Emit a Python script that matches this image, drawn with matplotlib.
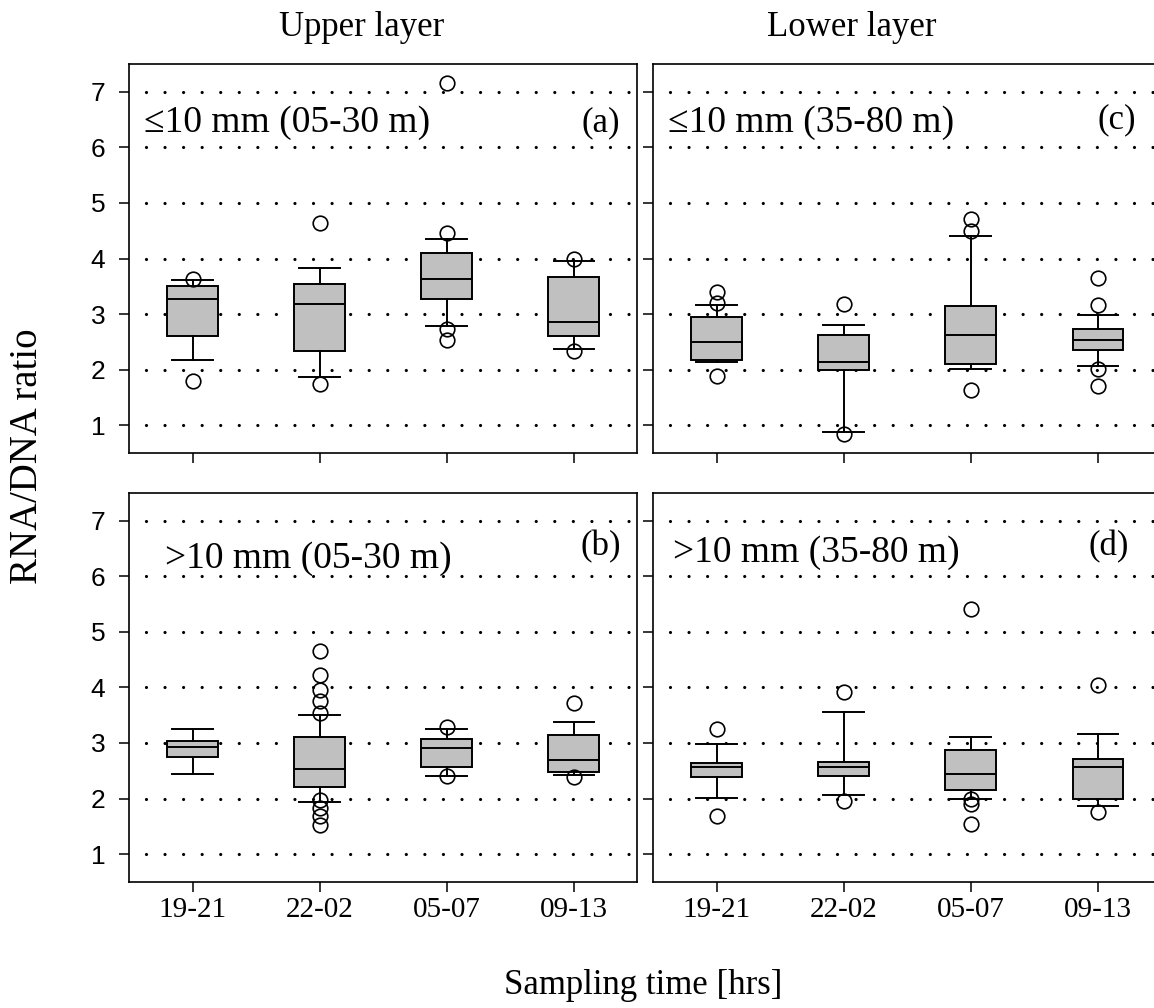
import matplotlib
matplotlib.use("Agg")

import matplotlib.pyplot as plt

# sampling windows on the x axis
times = ["19-21", "22-02", "05-07", "09-13"]

# (a) <=10 mm, upper layer (05-30 m)
a_lo = [2.18, 1.86, 2.79, 2.37]
a_q1 = [2.60, 2.34, 3.27, 2.60]
a_med = [3.28, 3.19, 3.64, 2.85]
a_q3 = [3.50, 3.54, 4.10, 3.66]
a_hi = [3.61, 3.83, 4.35, 3.96]
a_out = [[3.64, 1.80], [4.63, 1.75], [7.16, 4.45, 2.73, 2.54], [3.99, 2.33]]

# (b) >10 mm, upper layer (05-30 m)
b_lo = [2.44, 1.94, 2.41, 2.42]
b_q1 = [2.74, 2.21, 2.56, 2.48]
b_med = [2.92, 2.53, 2.91, 2.69]
b_q3 = [3.04, 3.10, 3.08, 3.14]
b_hi = [3.26, 3.50, 3.25, 3.38]
b_out = [[], [4.65, 4.23, 3.96, 3.75, 3.54, 1.97, 1.83, 1.68, 1.53],
         [3.29, 2.41], [3.72, 2.38]]

# (c) <=10 mm, lower layer (35-80 m)
c_lo = [2.14, 0.87, 2.01, 2.07]
c_q1 = [2.18, 2.00, 2.11, 2.35]
c_med = [2.50, 2.13, 2.63, 2.53]
c_q3 = [2.94, 2.62, 3.14, 2.73]
c_hi = [3.17, 2.81, 4.41, 2.98]
c_out = [[3.40, 3.20, 1.88], [3.19, 0.85], [4.71, 4.49, 1.64],
         [3.65, 3.17, 2.02, 1.70]]

# (d) >10 mm, lower layer (35-80 m)
d_lo = [2.01, 2.06, 1.99, 1.87]
d_q1 = [2.38, 2.41, 2.15, 2.00]
d_med = [2.56, 2.57, 2.45, 2.56]
d_q3 = [2.64, 2.66, 2.87, 2.71]
d_hi = [2.99, 3.55, 3.11, 3.17]
d_out = [[3.26, 1.69], [3.92, 1.95], [5.41, 2.00, 1.91, 1.54], [4.05, 1.75]]

panel_text = {
    "a": "\u226410 mm (05-30 m)",
    "b": ">10 mm (05-30 m)",
    "c": "\u226410 mm (35-80 m)",
    "d": ">10 mm (35-80 m)",
}

SERIF = "Liberation Serif"


def stats(lo, q1, med, q3, hi, out):
    return [dict(whislo=lo[i], q1=q1[i], med=med[i], q3=q3[i], whishi=hi[i],
                 fliers=out[i]) for i in range(len(med))]


def draw(ax, st, label, tag, lx, ly, tx, ty):
    for v in range(1, 8):
        ax.axhline(v, color="black", lw=2.3, ls=(0.5, (0.01, 5.8)),
                   dash_capstyle="round", zorder=0.5)
    lw = 1.4
    ax.bxp(st, positions=[1, 2, 3, 4], widths=0.4, capwidths=0.32,
           patch_artist=True,
           boxprops=dict(facecolor="#c0c0c0", edgecolor="black", linewidth=lw),
           medianprops=dict(color="black", linewidth=lw),
           whiskerprops=dict(color="black", linewidth=lw),
           capprops=dict(color="black", linewidth=lw),
           flierprops=dict(marker="o", markerfacecolor="none",
                           markeredgecolor="black", markersize=10.5,
                           markeredgewidth=1.2))
    ax.set_xlim(0.5, 4.5)
    ax.set_ylim(0.5, 7.5)
    ax.set_yticks(range(1, 8))
    ax.set_xticks([1, 2, 3, 4])
    ax.set_xticklabels(times, family=SERIF, fontsize=21)
    ax.tick_params(axis="y", direction="out", length=7, width=1.1,
                   labelsize=19, pad=10)
    ax.tick_params(axis="x", direction="out", length=7, width=1.1, pad=4)
    for lab in ax.get_yticklabels():
        lab.set_family("Liberation Sans")
    for s in ax.spines.values():
        s.set_linewidth(1.2)
    ax.text(lx, ly, label, family=SERIF, fontsize=27, va="center", ha="left")
    ax.text(tx, ty, tag, family=SERIF, fontsize=25, va="center", ha="right")


fig = plt.figure(figsize=(11.54, 10.08), dpi=100)
ax_a = fig.add_axes([0.1118, 0.5506, 0.4406, 0.3859])
ax_c = fig.add_axes([0.5659, 0.5506, 0.4406, 0.3859])
ax_b = fig.add_axes([0.1118, 0.1250, 0.4406, 0.3862])
ax_d = fig.add_axes([0.5659, 0.1250, 0.4406, 0.3862])

draw(ax_a, stats(a_lo, a_q1, a_med, a_q3, a_hi, a_out), panel_text["a"],
     "(a)", 0.62, 6.44, 4.36, 6.44)
draw(ax_b, stats(b_lo, b_q1, b_med, b_q3, b_hi, b_out), panel_text["b"],
     "(b)", 0.78, 6.32, 4.37, 6.52)
draw(ax_c, stats(c_lo, c_q1, c_med, c_q3, c_hi, c_out), panel_text["c"],
     "(c)", 0.62, 6.44, 4.30, 6.49)
draw(ax_d, stats(d_lo, d_q1, d_med, d_q3, d_hi, d_out), panel_text["d"],
     "(d)", 0.66, 6.43, 4.24, 6.52)

for ax in (ax_a, ax_c):
    ax.tick_params(axis="x", labelbottom=False)
for ax in (ax_c, ax_d):
    ax.tick_params(axis="y", labelleft=False)

fig.text(361.5 / 1154, 1 - 28 / 1008, "Upper layer", family=SERIF,
         fontsize=25, ha="center", va="center")
fig.text(851.5 / 1154, 1 - 28 / 1008, "Lower layer", family=SERIF,
         fontsize=25, ha="center", va="center")
fig.text(643 / 1154, 1 - 985 / 1008, "Sampling time [hrs]", family=SERIF,
         fontsize=25, ha="center", va="center")
fig.text(28 / 1154, 1 - 456 / 1008, "RNA/DNA ratio", family=SERIF,
         fontsize=28, ha="center", va="center", rotation=90)

fig.savefig("out.png", dpi=100)
plt.close(fig)
